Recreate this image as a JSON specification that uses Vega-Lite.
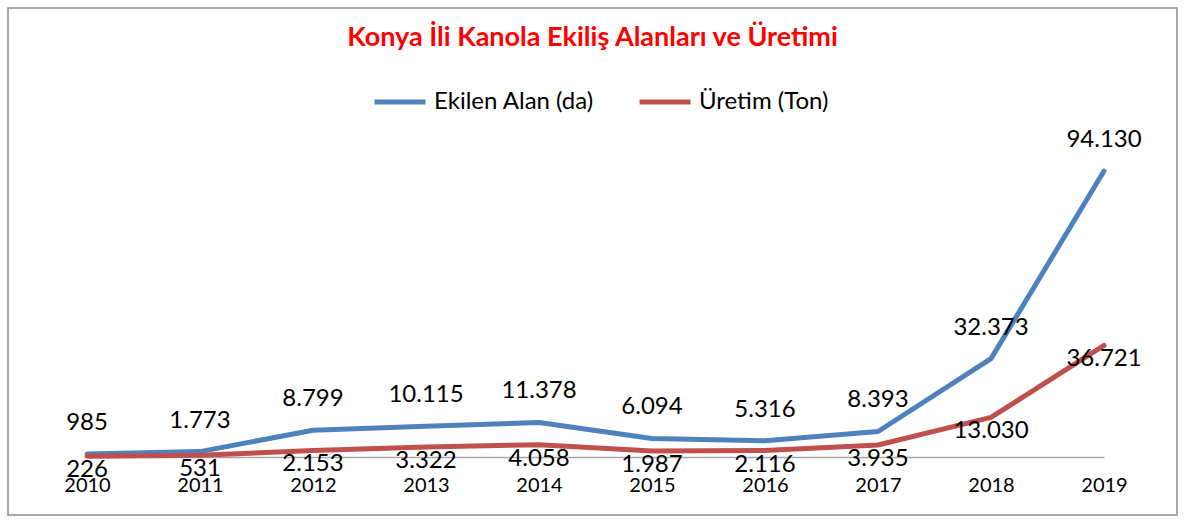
{
  "$schema": "https://vega.github.io/schema/vega-lite/v6.json",
  "width": 1169,
  "height": 507,
  "autosize": {"type": "none"},
  "padding": {"left": 8, "top": 8, "right": 8, "bottom": 5},
  "background": "white",
  "config": {
    "locale": {"number": {"decimal": ",", "thousands": ".", "grouping": [3], "currency": ["", ""]}},
    "view": {"stroke": "#8c8c8c", "strokeWidth": 1.5},
    "font": "Lato"
  },
  "title": {
    "text": "Konya İli Kanola Ekiliş Alanları ve Üretimi",
    "color": "#FF0000",
    "fontSize": 27,
    "fontWeight": "bold",
    "font": "Lato",
    "anchor": "middle",
    "offset": 0,
    "dy": 44
  },
  "data": {
    "values": [
      {"yil": "2010", "seri": "Ekilen Alan (da)", "deger": 985},
      {"yil": "2011", "seri": "Ekilen Alan (da)", "deger": 1773},
      {"yil": "2012", "seri": "Ekilen Alan (da)", "deger": 8799},
      {"yil": "2013", "seri": "Ekilen Alan (da)", "deger": 10115},
      {"yil": "2014", "seri": "Ekilen Alan (da)", "deger": 11378},
      {"yil": "2015", "seri": "Ekilen Alan (da)", "deger": 6094},
      {"yil": "2016", "seri": "Ekilen Alan (da)", "deger": 5316},
      {"yil": "2017", "seri": "Ekilen Alan (da)", "deger": 8393},
      {"yil": "2018", "seri": "Ekilen Alan (da)", "deger": 32373},
      {"yil": "2019", "seri": "Ekilen Alan (da)", "deger": 94130},
      {"yil": "2010", "seri": "Üretim (Ton)", "deger": 226},
      {"yil": "2011", "seri": "Üretim (Ton)", "deger": 531},
      {"yil": "2012", "seri": "Üretim (Ton)", "deger": 2153},
      {"yil": "2013", "seri": "Üretim (Ton)", "deger": 3322},
      {"yil": "2014", "seri": "Üretim (Ton)", "deger": 4058},
      {"yil": "2015", "seri": "Üretim (Ton)", "deger": 1987},
      {"yil": "2016", "seri": "Üretim (Ton)", "deger": 2116},
      {"yil": "2017", "seri": "Üretim (Ton)", "deger": 3935},
      {"yil": "2018", "seri": "Üretim (Ton)", "deger": 13030},
      {"yil": "2019", "seri": "Üretim (Ton)", "deger": 36721}
    ]
  },
  "encoding": {
    "x": {
      "field": "yil",
      "type": "ordinal",
      "scale": {"type": "point", "padding": 0, "range": [79, 1096]},
      "axis": {
        "title": null,
        "labelAngle": 0,
        "ticks": false,
        "grid": false,
        "domainColor": "#a6a6a6",
        "domainWidth": 1.5,
        "offset": -58,
        "labelPadding": 18,
        "labelFontSize": 20,
        "labelColor": "black",
        "labelFont": "Lato"
      }
    },
    "y": {
      "field": "deger",
      "type": "quantitative",
      "scale": {"domain": [-19100, 147800], "nice": false, "zero": false},
      "axis": null
    }
  },
  "layer": [
    {
      "mark": {"type": "line", "strokeWidth": 5, "strokeCap": "round", "strokeJoin": "round"},
      "encoding": {
        "color": {
          "field": "seri",
          "type": "nominal",
          "scale": {"domain": ["Ekilen Alan (da)", "Üretim (Ton)"], "range": ["#4F81BD", "#C0504D"]},
          "legend": {
            "title": null,
            "orient": "none",
            "direction": "horizontal",
            "legendX": 364,
            "legendY": 66,
            "symbolType": "stroke",
            "symbolSize": 2600,
            "symbolStrokeWidth": 5,
            "labelFontSize": 24,
            "labelFont": "Lato",
            "labelColor": "black",
            "labelOffset": 6,
            "columnPadding": 35,
            "padding": 0
          }
        }
      }
    },
    {
      "transform": [{"filter": "datum.seri === 'Ekilen Alan (da)'"}],
      "mark": {"type": "text", "dy": -31, "fontSize": 24, "color": "black", "font": "Lato"},
      "encoding": {"text": {"field": "deger", "type": "quantitative", "format": ",d"}}
    },
    {
      "transform": [{"filter": "datum.seri === 'Üretim (Ton)'"}],
      "mark": {"type": "text", "dy": 14, "fontSize": 24, "color": "black", "font": "Lato"},
      "encoding": {"text": {"field": "deger", "type": "quantitative", "format": ",d"}}
    }
  ]
}
